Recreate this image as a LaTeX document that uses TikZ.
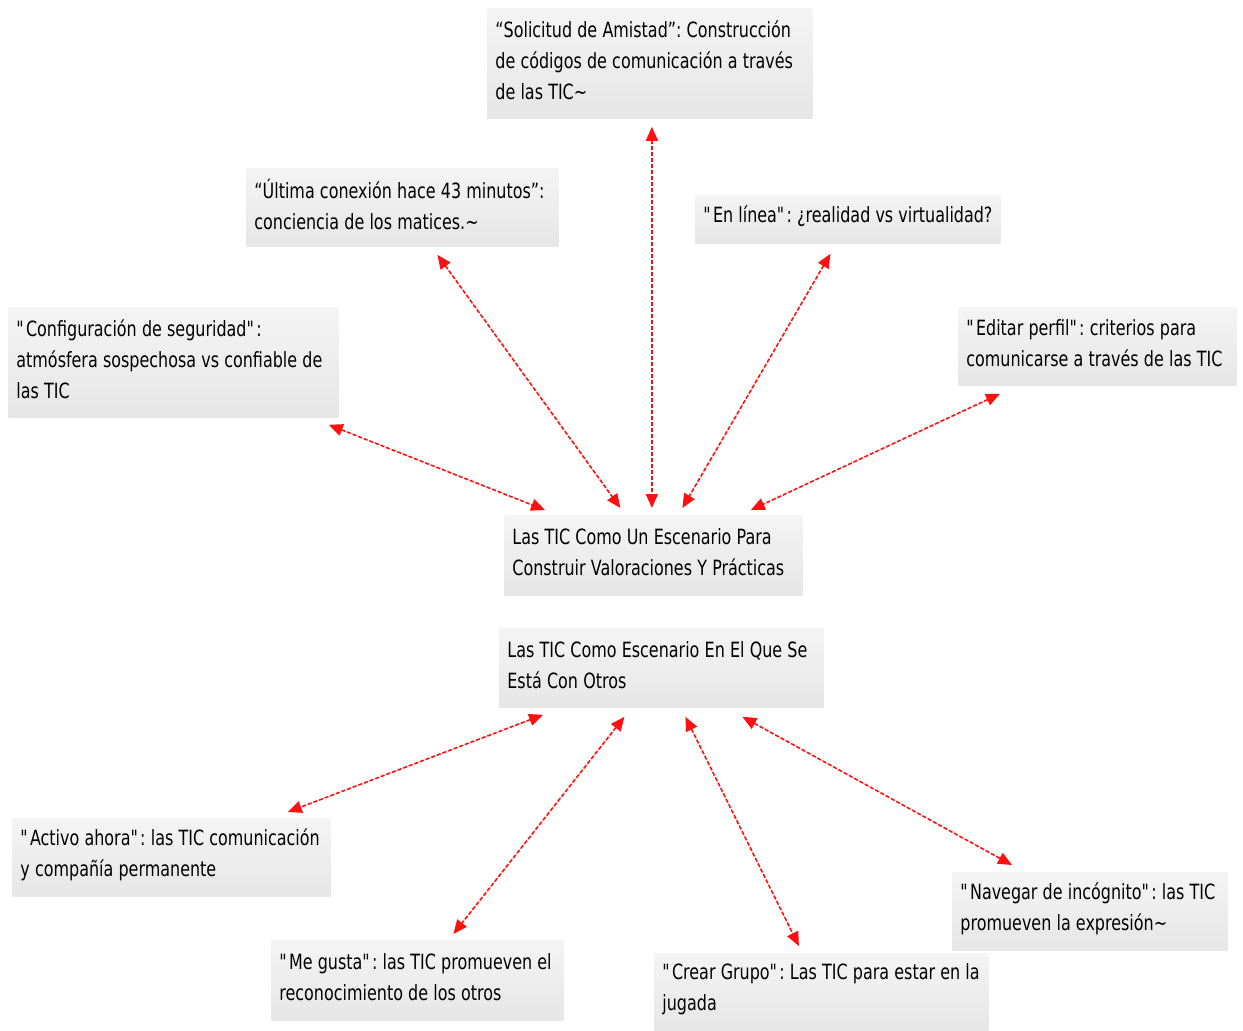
\documentclass[tikz,border=0pt]{standalone}
\usepackage{fontspec}
\setmainfont[FakeStretch=0.76]{DejaVu Sans}
\usepackage{tikz}
\usepackage{xcolor}
\usetikzlibrary{calc, arrows.meta}
\definecolor{boxtop}{HTML}{F4F4F4}
\definecolor{boxbot}{HTML}{E6E6E6}
\definecolor{linkred}{HTML}{FF1010}
\newcommand{\qd}{\textquotedbl}
\tikzset{
    tema/.style={rectangle, top color=boxtop, bottom color=boxbot, draw=none,
        anchor=north west, inner xsep=4pt, inner ysep=0pt, align=left,
        font=\fontsize{10.5}{15.5}\selectfont,
        execute at begin node={\frenchspacing\spaceskip=2.6pt plus 1pt minus 0.3pt
            \hyphenpenalty=10000\exhyphenpenalty=10000},
        execute at end node={\par\vspace{3pt}}},
    link/.style={{Triangle[length=7pt,width=6pt]}-{Triangle[length=7pt,width=6pt]},
        draw=linkred, fill=linkred, line width=0.8pt, dash pattern=on 2pt off 1pt}
}

\begin{document}
\begin{tikzpicture}[x=0.5pt, y=-0.5pt]
\useasboundingbox (0,0) rectangle (1243,1030);

% --- Central nodes ---
\node[tema, text width=141pt, minimum height=40pt] (ctop) at (504,515)
    {Las TIC Como Un Escenario Para\\Construir Valoraciones Y Prácticas};
\node[tema, text width=154pt, minimum height=39.5pt] (cbot) at (499,628)
    {Las TIC Como Escenario En El Que Se\\Está Con Otros};

% --- Upper ring ---
\node[tema, text width=154.5pt, minimum height=55pt] (sol) at (487,8)
    {“Solicitud de Amistad”: Construcción\\de códigos de comunicación a través\\de las TIC\textasciitilde};
\node[tema, text width=148pt, minimum height=39pt] (ult) at (246,168)
    {“Última conexión hace 43 minutos”:\\conciencia de los matices.\textasciitilde};
\node[tema, text width=144.5pt, minimum height=24pt] (lin) at (695,195)
    {\qd En línea\qd: ¿realidad vs virtualidad?};
\node[tema, text width=157pt, minimum height=55pt] (cfg) at (8,307)
    {\qd Configuración de seguridad\qd:\\atmósfera sospechosa vs confiable de\\las TIC};
\node[tema, text width=131pt, minimum height=39pt] (edi) at (958,307)
    {\qd Editar perfil\qd: criterios para\\comunicarse a través de las TIC};

% --- Lower ring ---
\node[tema, text width=151pt, minimum height=39pt] (act) at (12,818)
    {\qd Activo ahora\qd: las TIC comunicación\\y compañía permanente};
\node[tema, text width=138pt, minimum height=40pt] (meg) at (271,940)
    {\qd Me gusta\qd: las TIC promueven el\\reconocimiento de los otros};
\node[tema, text width=159pt, minimum height=38.5pt] (cre) at (654,953)
    {\qd Crear Grupo\qd: Las TIC para estar en la\\jugada};
\node[tema, text width=129.5pt, minimum height=39pt] (nav) at (952,872)
    {\qd Navegar de incógnito\qd: las TIC\\promueven la expresión\textasciitilde};

% --- Links to the upper centre ---
\draw[link] ($(cfg.south east)+(-10,7)$) -- ($(ctop.north west)+(41,-5)$);
\draw[link] ($(ult.south)+(35,8)$) -- ($(ctop.north)+(-33,-7)$);
\draw[link] ($(sol.south)+(2,8)$) -- ($(ctop.north)+(-1.5,-7)$);
\draw[link] ($(lin.south)+(-17.5,10)$) -- ($(ctop.north)+(29,-7)$);
\draw[link] ($(edi.south west)+(42,8)$) -- ($(ctop.north east)+(-52,-5)$);

% --- Links from the lower centre ---
\draw[link] ($(cbot.south west)+(44,7)$) -- ($(act.north east)+(-43,-6)$);
\draw[link] ($(cbot.south)+(-37,9)$) -- ($(meg.north)+(36,-6)$);
\draw[link] ($(cbot.south)+(24,9)$) -- ($(cre.north)+(-22.5,-7)$);
\draw[link] ($(cbot.south)+(81,9)$) -- ($(nav.north west)+(60,-7)$);

\end{tikzpicture}
\end{document}
